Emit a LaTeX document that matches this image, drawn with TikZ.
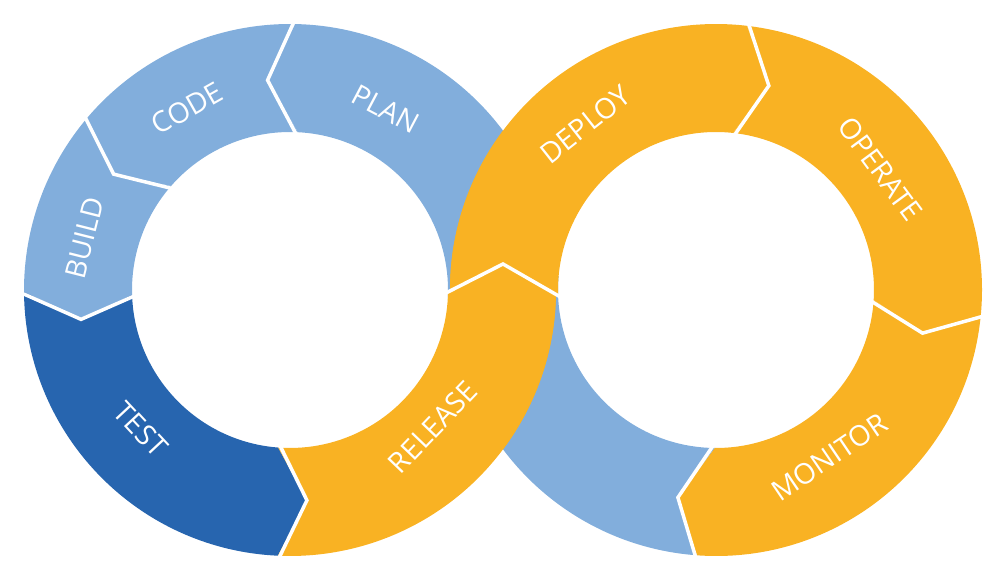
\documentclass[tikz,border=0pt]{standalone}
\usepackage{fontspec}
\setmainfont{Open Sans}
\definecolor{lblue}{RGB}{130,174,220}
\definecolor{dblue}{RGB}{39,101,175}
\definecolor{dorange}{RGB}{249,178,35}
\def\RingO{266pt}
\def\RingI{158pt}
\def\RingM{211pt}
% #1 centre, #2 colour, #3-#5 start (outer, tip, inner), #6-#8 end (outer, tip, inner)
\newcommand\ringseg[8]{%
  \fill[#2] ([shift={(#3:\RingO)}]#1) arc[start angle=#3, end angle=#6, radius=\RingO]
    -- ([shift={(#7:\RingM)}]#1) -- ([shift={(#8:\RingI)}]#1)
    arc[start angle=#8, end angle=#5, radius=\RingI]
    -- ([shift={(#4:\RingM)}]#1) -- cycle;}
\newcommand\chevline[4]{%
  \draw[sepline] ([shift={(#2:271pt)}]#1) -- ([shift={(#3:\RingM)}]#1) -- ([shift={(#4:153pt)}]#1);}
\begin{document}
\begin{tikzpicture}[x=1pt,y=1pt,
  sepline/.style={draw=white,line width=3.5pt,line join=miter,line cap=butt},
  lbl/.style={text=white,inner sep=0pt,font=\fontsize{28.5}{33}\selectfont}]
\useasboundingbox (0,0) rectangle (1005,581);
\coordinate (c1) at (290,291);
\coordinate (c2) at (716,291);
% light / dark blue parts
\ringseg{c1}{lblue}{-3}{-3}{-3}{88.9}{96.1}{87.1}
\ringseg{c1}{lblue}{88.9}{96.1}{87.1}{139.6}{146.7}{138.8}
\ringseg{c1}{lblue}{139.6}{146.7}{138.8}{180.4}{188}{181.8}
\ringseg{c1}{dblue}{180.4}{188}{181.8}{267.4}{274.6}{265.7}
\ringseg{c2}{lblue}{-94.1}{-100.4}{-90.4}{-185}{-185}{-185}
% orange parts
\begin{scope}
  \clip (c1) circle[radius=\RingO];
  \fill[dorange] (c2) circle[radius=\RingO];
\end{scope}
\ringseg{c1}{dorange}{267.4}{274.6}{265.7}{359.3}{359.3}{359.3}
\ringseg{c2}{dorange}{181.8}{181.8}{181.8}{83.3}{75.5}{83.8}
\ringseg{c2}{dorange}{83.3}{75.5}{83.8}{-5.4}{-11.8}{-3.6}
\ringseg{c2}{dorange}{-5.4}{-11.8}{-3.6}{-94.1}{-100.4}{-90.4}
% white separators
\chevline{c1}{88.9}{96.1}{87.1}
\chevline{c1}{139.6}{146.7}{138.8}
\chevline{c1}{180.4}{188}{181.8}
\chevline{c1}{267.4}{274.6}{265.7}
\chevline{c2}{83.3}{75.5}{83.8}
\chevline{c2}{-5.4}{-11.8}{-3.6}
\chevline{c2}{-94.1}{-100.4}{-90.4}
\coordinate (lensL) at (445,287.5);
\coordinate (lensT) at (503,317);
\coordinate (lensR) at (559.6,284.5);
\draw[sepline] (lensL) -- (lensT) -- (lensR);
% labels
\node[lbl,rotate=-27.9] (plan) at ([shift={(62.1:205pt)}]c1) {PLAN};
\node[lbl,rotate=29.5] (code) at ([shift={(119.5:209pt)}]c1) {CODE};
\node[lbl,rotate=75.8] (build) at ([shift={(165.8:212pt)}]c1) {BUILD};
\node[lbl,rotate=-47] (test) at ([shift={(223:204pt)}]c1) {TEST};
\node[lbl,rotate=46.2] (release) at ([shift={(-43.8:198pt)}]c1) {RELEASE};
\node[lbl,rotate=38.3] (deploy) at ([shift={(128.3:211pt)}]c2) {DEPLOY};
\node[lbl,rotate=-53.6] (operate) at ([shift={(36.4:204pt)}]c2) {OPERATE};
\node[lbl,rotate=34.1] (monitor) at ([shift={(-55.9:202pt)}]c2) {MONITOR};
\end{tikzpicture}
\end{document}
